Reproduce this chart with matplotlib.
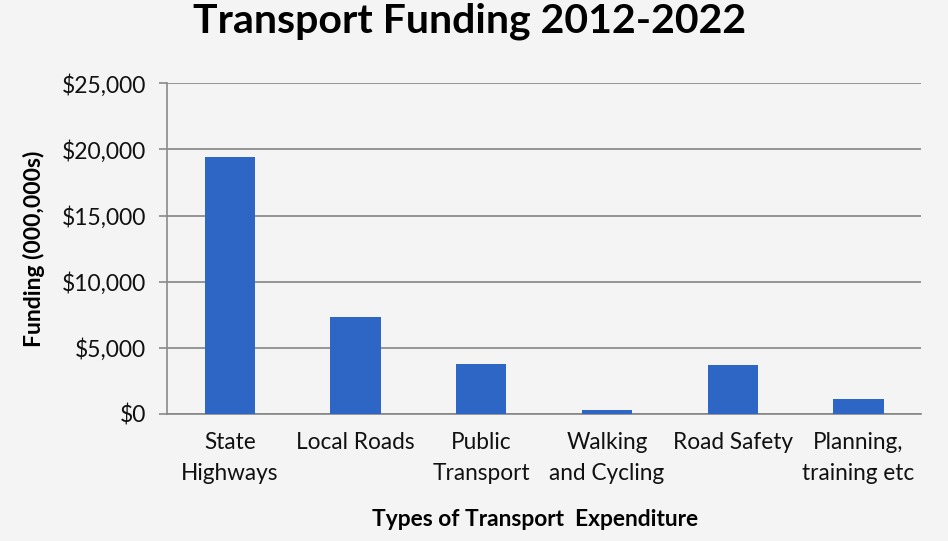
import matplotlib.pyplot as plt
from matplotlib.ticker import FuncFormatter

categories = ["State\nHighways", "Local Roads", "Public\nTransport",
              "Walking\nand Cycling", "Road Safety", "Planning,\ntraining etc"]
funding = [19400, 7300, 3800, 300, 3700, 1100]
yticks = [0, 5000, 10000, 15000, 20000, 25000]

plt.rcParams["font.family"] = ["Lato", "DejaVu Sans"]

bg = "#f4f4f4"
fig = plt.figure(figsize=(9.48, 5.41), dpi=100, facecolor=bg)
ax = fig.add_axes([0.176, 0.235, 0.796, 0.611], facecolor=bg)

x = range(len(categories))
ax.bar(x, funding, width=0.4, color="#2e66c6", zorder=3)
ax.set_xlim(-0.5, len(categories) - 0.5)
ax.set_ylim(0, 25000)
ax.set_yticks(yticks)
ax.yaxis.set_major_formatter(FuncFormatter(lambda v, _: f"${v:,.0f}"))
ax.set_xticks(list(x))
ax.set_xticklabels(categories, fontsize=16.3, color="#111111", linespacing=1.6)
ax.tick_params(axis="y", labelsize=16.5, labelcolor="#111111", length=6,
               color="#8a8a8a", width=1.2, pad=9)
ax.tick_params(axis="x", length=0, pad=13)

ax.grid(axis="y", color="#858585", linewidth=1.2, zorder=0)
for side in ["top", "right"]:
    ax.spines[side].set_visible(False)
ax.spines["left"].set_color("#8a8a8a")
ax.spines["left"].set_linewidth(1.2)
ax.spines["bottom"].set_color("#858585")
ax.spines["bottom"].set_linewidth(1.2)

ax.set_ylabel("Funding (000,000s)", fontsize=16.5, fontweight="bold", labelpad=12)
ax.set_xlabel("Types of Transport  Expenditure", fontsize=16.4, fontweight="bold", labelpad=18)
ax.xaxis.label.set_x(0.488)
fig.suptitle("Transport Funding 2012-2022", fontsize=29.5, fontweight="bold",
             x=0.495, y=0.995)

fig.savefig("out.png", dpi=100, facecolor=bg)
